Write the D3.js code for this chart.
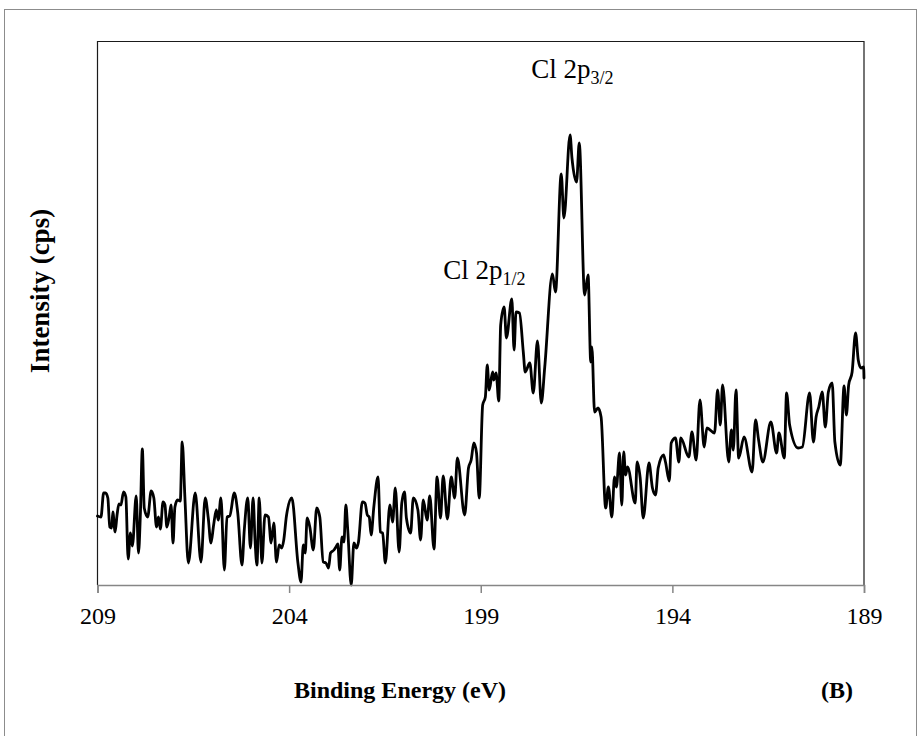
<!DOCTYPE html>
<html>
<head>
<meta charset="utf-8">
<script src="https://cdn.jsdelivr.net/npm/d3@7"></script>
<style>
  html, body { margin: 0; padding: 0; background: #fff; }
  svg { display: block; }
  text { font-family: "Liberation Serif", "Times New Roman", serif; fill: #000; }
</style>
</head>
<body>
<svg id="chart" width="917" height="736"></svg>
<script>
// Cl 2p high-resolution XPS scan: binding energy (eV) and counts (cps)
const energy = [
  209.00, 208.91, 208.84, 208.79, 208.73, 208.68, 208.63, 208.60, 208.54, 208.49,
  208.44, 208.39, 208.32, 208.26, 208.20, 208.14, 208.09, 207.99, 207.93, 207.88,
  207.83, 207.78, 207.69, 207.60, 207.53, 207.46, 207.41, 207.36, 207.29, 207.24,
  207.19, 207.13, 207.08, 207.03, 206.98, 206.91, 206.84, 206.79, 206.72, 206.63,
  206.45, 206.30, 206.19, 206.11, 206.04, 205.97, 205.90, 205.85, 205.78, 205.69,
  205.62, 205.55, 205.43, 205.34, 205.23, 205.17, 205.08, 205.01, 204.94, 204.89,
  204.84, 204.78, 204.71, 204.63, 204.54, 204.47, 204.40, 204.33, 204.26, 204.19,
  204.14, 204.07, 203.93, 203.77, 203.69, 203.63, 203.58, 203.53, 203.46, 203.37,
  203.28, 203.20, 203.11, 203.04, 202.97, 202.92, 202.83, 202.78, 202.73, 202.68,
  202.62, 202.57, 202.52, 202.47, 202.38, 202.31, 202.24, 202.19, 202.09, 202.02,
  201.96, 201.91, 201.86, 201.79, 201.68, 201.62, 201.56, 201.49, 201.37, 201.30,
  201.23, 201.13, 201.06, 200.99, 200.94, 200.83, 200.76, 200.64, 200.57, 200.50,
  200.40, 200.33, 200.22, 200.14, 200.05, 199.98, 199.87, 199.77, 199.68, 199.61,
  199.42, 199.32, 199.25, 199.18, 199.11, 199.04, 198.95, 198.88, 198.83, 198.78,
  198.69, 198.66, 198.60, 198.53, 198.48, 198.39, 198.33, 198.19, 198.13, 198.08,
  197.99, 197.89, 197.84, 197.72, 197.63, 197.52, 197.42, 197.33, 197.13, 197.05,
  196.90, 196.83, 196.67, 196.62, 196.50, 196.43, 196.29, 196.20, 196.13, 196.10,
  196.03, 195.94, 195.86, 195.74, 195.67, 195.58, 195.51, 195.46, 195.38, 195.32,
  195.27, 195.22, 195.17, 194.97, 194.92, 194.84, 194.76, 194.61, 194.52, 194.44,
  194.37, 194.23, 194.18, 194.08, 194.03, 193.92, 193.83, 193.78, 193.57, 193.49,
  193.38, 193.28, 193.17, 193.10, 192.90, 192.82, 192.75, 192.69, 192.53, 192.46,
  192.41, 192.34, 192.27, 192.13, 191.92, 191.83, 191.75, 191.64, 191.43, 191.28,
  191.22, 191.08, 191.02, 190.94, 190.72, 190.61, 190.42, 190.32, 190.25, 190.18,
  190.09, 190.01, 189.93, 189.83, 189.76, 189.62, 189.52, 189.46, 189.40, 189.31,
  189.22, 189.15, 189.08, 189.01, 189.00
];

const counts = [
  1138, 1136, 1184, 1184, 1174, 1116, 1114, 1146, 1106, 1140,
  1162, 1160, 1186, 1176, 1052, 1104, 1078, 1178, 1064, 1144,
  1272, 1154, 1136, 1188, 1174, 1116, 1136, 1112, 1166, 1160,
  1116, 1136, 1160, 1084, 1156, 1170, 1168, 1286, 1176, 1044,
  1184, 1046, 1174, 1134, 1084, 1120, 1150, 1130, 1174, 1030,
  1136, 1138, 1184, 1144, 1040, 1110, 1174, 1074, 1174, 1090,
  1040, 1174, 1044, 1140, 1136, 1084, 1124, 1046, 1080, 1074,
  1090, 1138, 1174, 1044, 1006, 1080, 1064, 1134, 1116, 1070,
  1154, 1136, 1046, 1044, 1034, 1064, 1070, 1076, 1082, 1030,
  1096, 1086, 1160, 1110, 1000, 1084, 1074, 1086, 1166, 1164,
  1140, 1136, 1100, 1156, 1216, 1106, 1104, 1044, 1160, 1126,
  1194, 1066, 1164, 1186, 1134, 1104, 1174, 1150, 1090, 1170,
  1130, 1178, 1072, 1216, 1134, 1218, 1132, 1216, 1174, 1254,
  1140, 1234, 1250, 1284, 1264, 1174, 1360, 1376, 1440, 1390,
  1426, 1410, 1424, 1368, 1520, 1556, 1494, 1572, 1470, 1546,
  1544, 1466, 1426, 1444, 1384, 1488, 1364, 1436, 1622, 1586,
  1822, 1734, 1900, 1854, 1806, 1884, 1580, 1620, 1446, 1476,
  1346, 1354, 1336, 1154, 1196, 1136, 1216, 1196, 1264, 1160,
  1266, 1220, 1236, 1164, 1246, 1214, 1134, 1244, 1194, 1180,
  1234, 1260, 1246, 1208, 1284, 1294, 1246, 1294, 1256, 1306,
  1250, 1370, 1276, 1314, 1304, 1390, 1320, 1400, 1246, 1310,
  1270, 1390, 1254, 1296, 1226, 1330, 1290, 1246, 1326, 1264,
  1304, 1254, 1384, 1320, 1274, 1276, 1384, 1286, 1336, 1356,
  1386, 1316, 1386, 1404, 1286, 1240, 1398, 1340, 1400, 1426,
  1504, 1450, 1434, 1436, 1414
];

const xTicks = [209, 204, 199, 194, 189];
const xDomain = [209, 189];
const yDomain = [1000, 2088];

const peakLabels = [
  { base: "Cl 2p", sub: "3/2", energy: 197.68, counts: 2014 },
  { base: "Cl 2p", sub: "1/2", energy: 199.98, counts: 1612 }
];

const svg = d3.select("#chart");
const W = 917, H = 736;
const margin = { left: 97.5, right: 53, top: 41, bottom: 151 };
const plotW = W - margin.left - margin.right;
const plotH = H - margin.top - margin.bottom;

// outer chart frame
svg.append("rect")
  .attr("x", 4.5).attr("y", 9.5)
  .attr("width", 912).attr("height", 730)
  .attr("fill", "none").attr("stroke", "#8c8c8c").attr("stroke-width", 1);

const g = svg.append("g").attr("transform", `translate(${margin.left},${margin.top})`);

const x = d3.scaleLinear().domain(xDomain).range([0, plotW]);
const y = d3.scaleLinear().domain(yDomain).range([plotH, 0]);

// plot area border (top, left, right)
g.append("path")
  .attr("d", `M0,${plotH}V0.5H${plotW}V${plotH}`)
  .attr("fill", "none").attr("stroke", "#1a1a1a").attr("stroke-width", 1.2);

// spectrum
const pts = energy.map((e, i) => [e, counts[i]]);
g.append("path")
  .datum(pts)
  .attr("fill", "none")
  .attr("stroke", "#000")
  .attr("stroke-width", 2.8)
  .attr("stroke-linejoin", "round")
  .attr("stroke-linecap", "round")
  .attr("d", d3.line().x(d => x(d[0])).y(d => y(d[1])).curve(d3.curveMonotoneX));

// bottom axis
const xAxis = g.append("g")
  .attr("transform", `translate(0,${plotH})`)
  .call(d3.axisBottom(x).tickValues(xTicks).tickSize(8).tickPadding(14).tickFormat(d3.format("d")));
xAxis.select(".domain").attr("stroke", "#868686").attr("stroke-width", 1.5);
xAxis.selectAll(".tick line").attr("stroke", "#868686").attr("stroke-width", 1.5);
xAxis.selectAll(".tick text")
  .attr("font-family", "Liberation Serif, serif")
  .attr("font-size", 24).attr("fill", "#000");

// axis titles
svg.append("text")
  .attr("x", 400).attr("y", 698)
  .attr("text-anchor", "middle")
  .attr("font-size", 24).attr("font-weight", "bold")
  .text("Binding Energy (eV)");

svg.append("text")
  .attr("x", 837).attr("y", 698)
  .attr("text-anchor", "middle")
  .attr("font-size", 24).attr("font-weight", "bold")
  .text("(B)");

svg.append("text")
  .attr("transform", "translate(49,291) rotate(-90)")
  .attr("text-anchor", "middle")
  .attr("font-size", 27).attr("font-weight", "bold")
  .text("Intensity (cps)");

// peak annotations
peakLabels.forEach(p => {
  const t = g.append("text")
    .attr("x", x(p.energy)).attr("y", y(p.counts))
    .attr("font-size", 27);
  t.append("tspan").text(p.base);
  t.append("tspan").attr("font-size", 18).attr("dy", 6).text(p.sub);
});
</script>
</body>
</html>
